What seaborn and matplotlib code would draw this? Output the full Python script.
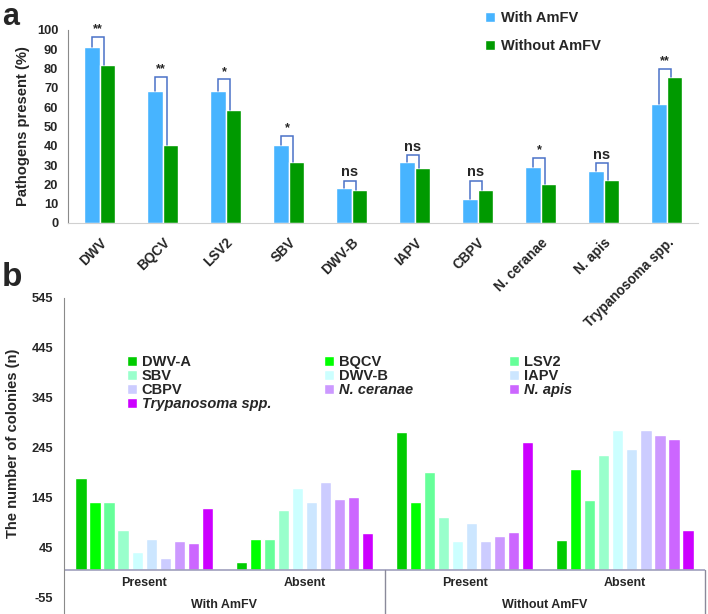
import pandas as pd
import matplotlib
matplotlib.use("Agg")
import matplotlib.pyplot as plt
import seaborn as sns

# ---- panel a data (percent of colonies with pathogen) ----
pathogens = ["DWV", "BQCV", "LSV2", "SBV", "DWV-B", "IAPV", "CBPV",
             "N. ceranae", "N. apis", "Trypanosoma spp."]
with_amfv = [91.3, 68.4, 68.4, 40.2, 18.0, 31.4, 12.3, 29.0, 26.9, 61.8]
without_amfv = [81.7, 40.2, 58.4, 31.8, 17.1, 28.3, 17.1, 20.2, 22.3, 75.8]
signif = ["**", "**", "*", "*", "ns", "ns", "ns", "*", "ns", "**"]
bracket_top = [96.4, 75.9, 74.4, 45.0, 21.8, 35.2, 21.8, 33.8, 30.9, 80.0]

# ---- panel b data (number of colonies) ----
b_pathogens = ["DWV-A", "BQCV", "LSV2", "SBV", "DWV-B", "IAPV", "CBPV",
               "N. ceranae", "N. apis", "Trypanosoma spp."]
b_groups = ["With AmFV", "Without AmFV"]
b_status = ["Present", "Absent"]
with_present = [184, 137, 137, 81, 37, 63, 25, 58, 54, 125]
with_absent = [17, 63, 63, 120, 165, 137, 176, 142, 146, 75]
without_present = [277, 136, 197, 107, 58, 95, 58, 68, 76, 257]
without_absent = [61, 202, 140, 230, 280, 242, 280, 270, 262, 81]
b_ticks = [-55, 45, 145, 245, 345, 445, 545]

a_colors = ["#47b4ff", "#009a00"]
b_colors = ["#00cc00", "#00ff00", "#66ff99", "#99ffcc", "#ccffff",
            "#cce6ff", "#ccccff", "#cc99ff", "#cc66ff", "#cc00ff"]
italic_names = ["N. ceranae", "N. apis", "Trypanosoma spp."]

sns.set_style("white")
plt.rcParams["font.family"] = ["Liberation Sans", "DejaVu Sans"]
plt.rcParams["font.weight"] = "bold"
plt.rcParams["axes.unicode_minus"] = False

W, H = 708, 614
fig = plt.figure(figsize=(W / 100, H / 100), dpi=100)

# ================= panel b (drawn first so panel a labels stay on top) =================
ax2 = fig.add_axes([64 / W, 0, 641 / W, 316 / H])
ax2.patch.set_visible(False)
rows = []
cats = []
b_values = {("With AmFV", "Present"): with_present,
            ("With AmFV", "Absent"): with_absent,
            ("Without AmFV", "Present"): without_present,
            ("Without AmFV", "Absent"): without_absent}
for g in b_groups:
    for st in b_status:
        cat = g + "|" + st
        cats.append(cat)
        for p, v in zip(b_pathogens, b_values[(g, st)]):
            rows.append({"cat": cat, "n": v, "pathogen": p})
df_b = pd.DataFrame(rows)
sns.barplot(data=df_b, x="cat", y="n", hue="pathogen", order=cats,
            hue_order=b_pathogens, palette=b_colors, width=0.875, gap=0.2,
            saturation=1, errorbar=None, ax=ax2)
ax2.set_ylim(-88, 545)
ax2.set_xlim(-0.5, len(cats) - 0.5)
ax2.set_yticks(b_ticks)
ax2.set_xticks([])
ax2.set_xlabel("")
ax2.set_ylabel("The number of colonies (n)", fontsize=10.6, fontweight="bold")
ax2.yaxis.set_label_coords(-0.068, 0.54)
ax2.tick_params(axis="y", length=0, pad=8, labelsize=9.3)
for s in ["top", "right", "bottom"]:
    ax2.spines[s].set_visible(False)
ax2.spines["left"].set_color("#8a8a8a")
ax2.axhline(0, color="#a0a0bc", lw=1.2)

# category labels under the baseline
for i, cat in enumerate(cats):
    ax2.text(i, -25, cat.split("|")[1], ha="center", va="center", fontsize=9,
             fontweight="bold")
for j, g in enumerate(b_groups):
    ax2.text(j * 2 + 0.5, -69, g, ha="center", va="center", fontsize=9,
             fontweight="bold")
    ax2.plot([j * 2 + 1.5] * 2, [0, -88], color="#8a8a9a", lw=1, clip_on=False)

# legend in three columns, row-wise order
handles, labels = ax2.get_legend_handles_labels()
ax2.get_legend().remove()
col_x = [117, 314, 499]
for c in range(3):
    idx = list(range(c, len(handles), 3))
    leg = fig.legend([handles[k] for k in idx], [labels[k] for k in idx],
                     loc="upper left", bbox_to_anchor=(col_x[c] / W, 1 - 345 / H),
                     frameon=False, handlelength=0.7, handleheight=0.7,
                     handletextpad=0.3, labelspacing=0.0, borderpad=0.2,
                     prop={"weight": "bold", "size": 10.5})
    for t in leg.get_texts():
        if t.get_text() in italic_names:
            t.set_fontstyle("italic")

# ================= panel a =================
ax1 = fig.add_axes([68 / W, 1 - 223 / H, 630 / W, 193 / H])
ax1.patch.set_visible(False)
df_a = pd.DataFrame({
    "pathogen": pathogens * 2,
    "pct": with_amfv + without_amfv,
    "group": ["With AmFV"] * len(pathogens) + ["Without AmFV"] * len(pathogens),
})
sns.barplot(data=df_a, x="pathogen", y="pct", hue="group", palette=a_colors,
            width=0.48, saturation=1, errorbar=None, ax=ax1)
ax1.set_ylim(0, 100)
ax1.set_xlim(-0.5, len(pathogens) - 0.5)
ax1.set_yticks(range(0, 101, 10))
ax1.set_xlabel("")
ax1.set_ylabel("Pathogens present (%)", fontsize=10.6, fontweight="bold", labelpad=5)
ax1.tick_params(axis="y", length=0, pad=7, labelsize=9.3)
ax1.tick_params(axis="x", length=0, pad=9)
ax1.set_xticks(range(len(pathogens)))
ax1.set_xticklabels(pathogens, rotation=45, ha="right", rotation_mode="anchor",
                    fontsize=9.8, fontweight="bold")
for s in ["top", "right"]:
    ax1.spines[s].set_visible(False)
ax1.spines["left"].set_color("#8a8a8a")
ax1.spines["bottom"].set_color("#d0d0d0")

# significance brackets
blue_bars = ax1.containers[0]
green_bars = ax1.containers[1]
for i, (pb, pg) in enumerate(zip(blue_bars, green_bars)):
    x0 = pb.get_x() + pb.get_width() * 0.5
    x1 = pg.get_x() + pg.get_width() * 0.3
    y0 = pb.get_height()
    y1 = pg.get_height()
    top = bracket_top[i]
    ax1.plot([x0, x0, x1, x1], [y0, top, top, y1], color="#4a72c8", lw=1.1,
             solid_joinstyle="miter")
    fs = 10.5 if signif[i] == "ns" else 9
    ax1.text((x0 + x1) / 2, top + 0.8, signif[i], ha="center", va="bottom",
             fontsize=fs, fontweight="bold")

handles, labels = ax1.get_legend_handles_labels()
ax1.get_legend().remove()
fig.legend(handles, labels, loc="upper left", bbox_to_anchor=(475 / W, 1 - 1 / H),
           frameon=False, handlelength=0.7, handleheight=0.7,
           handletextpad=0.35, labelspacing=0.95, borderpad=0.2,
           prop={"weight": "bold", "size": 10.5})

# panel letters
fig.text(2 / W, 1 - 2 / H, "a", fontsize=22, fontweight="bold", va="top")
fig.text(2 / W, 1 - 262 / H, "b", fontsize=24, fontweight="bold", va="top")

fig.savefig("out.png", dpi=100)
